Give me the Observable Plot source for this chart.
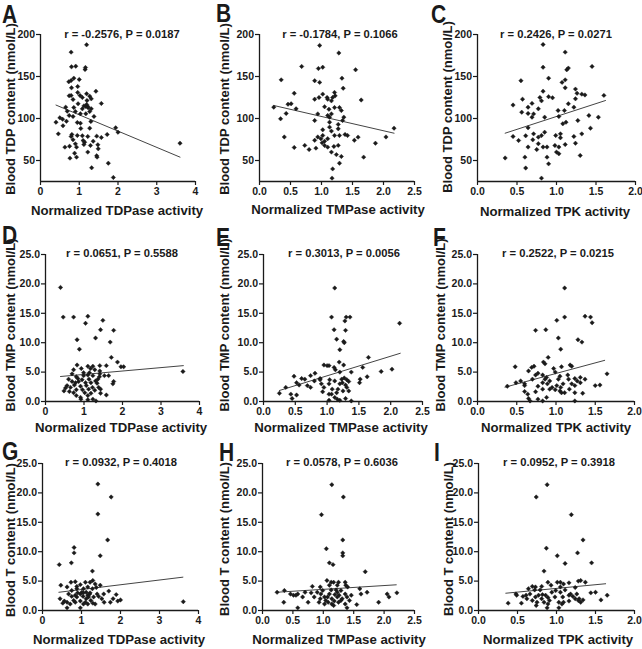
<!DOCTYPE html>
<html><head><meta charset="utf-8">
<script src="https://cdn.jsdelivr.net/npm/d3@7"></script>
<script src="https://cdn.jsdelivr.net/npm/@observablehq/plot@0.6"></script>
<style>
body{margin:0;background:#fff;font-family:"Liberation Sans",Arial,sans-serif;}
#wrap{position:relative;width:642px;height:649px;overflow:hidden;background:#fff}
.pl{position:absolute}
.t{position:absolute;font-weight:bold;white-space:nowrap;color:#1a1a1a;line-height:1;font-family:"Liberation Sans",Arial,sans-serif}
.t.big{line-height:0.76;transform-origin:0 50%}
</style>
</head><body><div id="wrap"></div>
<script>
// ---- data ----
const panelIds = ["A","B","C","D","E","F","G","H","I"];
const titles = ["r = -0.2576, P = 0.0187","r = -0.1784, P = 0.1066","r = 0.2426, P = 0.0271",
  "r = 0.0651, P = 0.5588","r = 0.3013, P = 0.0056","r = 0.2522, P = 0.0215",
  "r = 0.0932, P = 0.4018","r = 0.0578, P = 0.6036","r = 0.0952, P = 0.3918"];
const xLabels = ["Normalized TDPase activity","Normalized TMPase activity","Normalized TPK activity"];
const yLabels = ["Blood TDP content (nmol/L)","Blood TMP content (nmol/L)","Blood T content (nmol/L)"];
const xTicksTDPase = [0,1,2,3,4];
const xTicksTMPase = [0,0.5,1,1.5,2,2.5];
const xTicksTPK = [0,0.5,1,1.5,2];
const yTicksTDP = [50,100,150,200];
const yTicksT = [0,5,10,15,20,25];

const A_x = [1.19,0.79,0.80,0.91,1.16,1.15,1.00,0.73,0.79,0.86,1.43,0.80,0.96,0.96,0.74,0.79,1.02,1.19,1.27,1.31,0.84,1.08,1.20,1.57,0.65,1.19,1.22,1.08,1.31,1.27,0.90,0.74,0.84,1.03,1.38,0.50,0.57,0.40,0.67,1.03,1.30,0.58,1.04,1.27,1.94,2.00,0.46,0.81,0.79,0.95,1.08,1.22,1.45,1.57,1.72,0.84,1.10,1.14,1.36,1.12,1.29,1.48,0.90,0.63,0.75,0.93,1.49,1.22,0.88,1.45,1.46,0.76,0.93,1.75,1.32,1.88,3.60,1.17,1.12,1.23,0.86,1.17,0.95,0.69,0.97];
const A_y = [187.7,179,161.5,162.3,160.7,158.3,146.4,143.7,145.2,148,132.5,136.5,138,131,127,127.4,127.4,129.4,126.6,123.4,122.6,125,121.4,117.9,113.5,116.7,114.3,111.5,111.5,108.3,108.3,103.6,102.4,105.6,102.4,100.8,99.2,95.6,96.8,94.4,96.4,91.3,88.1,88.5,88.9,83.7,81.7,81,78.6,79.8,79.4,78.6,79,77.4,81,74.6,73.8,71.8,73,69,67.9,68.7,69.8,65.9,67,65.9,63.9,60,58.7,55.6,54,52.8,54,46.8,41.3,29.8,70.6,114.3,115,112.7,113,105.6,95.2,108.7,117.5];

const ptsB = [[0.97,187],[1.28,178],[0.68,162],[1.02,161],[0.95,159.5],[1.55,158],[0.35,146],[0.89,145],[0.97,143],[1.33,148],
[1.35,136],[0.56,130],[1.02,129],[1.21,131],[1.22,127],[0.89,123],[0.96,125],[1.09,125],[1.10,123],[1.18,125],
[1.16,121],[1.64,122],[0.23,113.5],[0.46,117],[0.51,117.5],[0.59,111.5],[1.05,114],[1.12,111],[1.21,113],[1.29,113],
[1.32,109.5],[0.34,99.6],[0.43,106],[0.94,105.5],[1.10,103.5],[1.16,105.5],[1.13,101.6],[1.36,101.6],[0.89,97.6],[1.13,95.6],
[1.27,93],[1.34,97.6],[1.27,87.7],[0.40,78],[1.02,79.8],[0.99,76],[1.21,79.8],[1.29,79.8],[1.38,81],[1.42,79.8],
[1.59,77.8],[1.53,74],[2.04,78],[2.17,88.5],[1.87,70.6],[0.73,68],[0.56,65.5],[0.80,63],[0.91,64.7],[1.05,67.9],
[1.10,65.9],[1.20,66.7],[1.27,68],[1.16,60],[1.24,57],[1.32,54.8],[1.68,54],[1.29,46.8],[1.18,40],[1.17,29],
[1.01,71],[1.05,73],[0.89,74],[1.02,86.5],[1.16,85],[1.13,89.7],[0.94,78],[1.10,76]];

const ptsC = [[0.83,188],[1.11,179],[0.83,161],[1.13,158],[1.15,160],[1.45,162],[1.11,146],[0.55,145],[0.90,148],[1.07,143],
[0.83,132.5],[1.11,136.5],[1.24,135],[1.32,129],[1.26,130],[0.57,123],[0.69,118],[0.64,113.5],[0.45,116],[0.79,125],
[0.81,121],[0.90,126],[0.95,124.6],[1.02,109.5],[1.10,109.5],[1.15,117.5],[1.24,123.4],[1.36,128],[1.60,127.5],[1.22,113.5],
[0.77,111.5],[0.85,101.6],[0.64,106],[0.71,105.5],[0.56,107.5],[0.69,101.6],[1.03,102.4],[1.08,93.7],[1.12,95.6],[1.27,97.6],
[1.41,103.6],[1.53,101.6],[0.64,88.9],[0.85,83.7],[0.71,81.7],[0.45,78.6],[0.61,79.4],[0.77,77.8],[0.81,79.8],[0.99,79.8],
[1.05,81.7],[1.22,78.6],[1.32,81.7],[1.43,88.5],[0.52,73.8],[0.70,74.6],[0.98,67.9],[1.03,66],[0.88,66],[0.83,66],
[1.11,69],[1.24,70.6],[0.64,66],[0.75,63],[1.00,60],[1.03,58],[0.60,54],[0.88,54],[0.35,53],[1.30,56],
[0.90,46],[0.61,41],[0.81,29],[1.05,77],[0.77,70]];

const ptsD = [[0.39,19.4],[0.46,14.35],[0.73,14.35],[1.10,14.5],[1.04,13.3],[1.49,13.8],[1.43,12.2],[1.77,12.1],[1.30,10.8],[0.82,10.5],
[1.68,10.1],[0.88,8.9],[1.71,7.5],[1.87,6.7],[0.82,6.2],[1.10,6.0],[1.23,6.0],[1.17,5.6],[1.41,6.1],[1.58,6.1],
[1.96,5.9],[2.03,5.9],[0.73,5.4],[0.93,5.6],[3.57,5.1],[0.69,4.7],[0.80,4.2],[0.99,4.4],[1.10,4.5],[1.23,4.4],
[1.41,4.7],[1.40,4.2],[1.64,4.4],[0.60,3.8],[0.84,3.9],[0.95,3.7],[1.13,3.8],[1.30,3.5],[0.86,3.4],[1.04,3.2],
[1.18,3.2],[1.34,3.1],[1.77,3.4],[1.75,3.0],[0.56,2.7],[0.75,2.8],[0.91,2.6],[1.06,2.7],[1.22,2.4],[1.38,2.4],
[1.43,2.1],[0.52,2.3],[0.65,2.4],[0.80,2.0],[0.96,2.0],[1.12,2.1],[1.28,1.9],[0.48,1.8],[0.62,1.7],[1.02,1.5],
[1.18,1.4],[1.43,1.4],[1.58,1.1],[0.80,1.0],[0.91,0.7],[0.92,0.4],[1.10,0.3],[1.23,0.4],[1.31,0.1],[0.73,1.5],
[0.99,4.9],[1.14,4.9],[1.41,5.2],[1.28,5.4],[0.69,3.4],[1.10,1.0],[1.53,4.4],[1.36,3.8],[0.78,3.2]];

const ptsE = [[1.12,19.3],[1.07,14.35],[1.30,14.35],[1.36,14.35],[1.28,13.7],[1.11,12.2],[1.29,12.1],[1.15,10.6],[1.26,10.2],[1.27,10.0],
[1.20,8.8],[2.14,13.3],[1.65,7.5],[1.19,6.7],[0.95,6.2],[1.00,6.1],[1.03,6.1],[1.11,5.8],[1.13,5.4],[1.26,6.2],
[1.56,5.8],[1.85,5.1],[2.02,5.5],[1.63,4.2],[0.48,4.3],[0.60,3.9],[0.74,4.4],[0.81,4.8],[0.89,3.9],[0.89,3.7],
[1.04,3.7],[1.23,3.8],[1.27,4.0],[1.31,3.7],[1.34,3.4],[1.12,3.5],[0.52,3.2],[0.56,2.8],[0.69,2.7],[0.35,2.4],
[0.91,3.0],[1.03,3.0],[1.20,3.0],[1.24,3.2],[1.29,2.8],[1.51,3.2],[1.52,3.8],[0.95,2.4],[1.08,2.1],[1.17,2.1],
[1.31,2.4],[0.25,1.4],[0.43,1.25],[0.52,1.1],[0.93,1.65],[1.03,1.25],[1.07,1.25],[1.15,1.5],[1.25,1.8],[1.34,1.8],
[0.45,0.5],[1.03,0.2],[1.16,0.4],[1.20,0.2],[1.29,0.5],[1.38,0.1],[0.80,3.5],[0.65,3.8],[1.12,0.7],[0.74,2.4],
[1.20,5.0],[1.38,5.0]];

const ptsF = [[1.11,19.3],[1.11,14.35],[1.37,14.5],[1.44,14.35],[1.46,13.4],[1.01,13.8],[0.74,12.1],[0.87,12.2],[1.03,10.8],[1.28,10.5],
[1.33,10.1],[1.06,8.9],[0.90,7.5],[0.48,5.9],[0.69,5.8],[0.72,6.0],[0.84,6.7],[0.86,6.4],[1.18,6.2],[1.20,6.0],
[1.07,5.9],[0.97,5.6],[0.49,3.2],[0.55,3.5],[0.70,3.8],[0.77,4.8],[0.83,4.5],[0.88,4.1],[0.86,3.8],[0.92,3.5],
[1.03,3.8],[1.05,4.3],[1.15,4.5],[1.16,3.8],[1.24,3.9],[1.27,3.5],[1.31,4.1],[1.65,4.7],[0.38,2.6],[0.60,2.7],
[0.77,2.6],[0.89,3.0],[0.95,2.4],[1.01,2.7],[1.09,3.0],[1.24,2.7],[1.31,3.2],[1.50,2.7],[1.56,2.8],[0.60,1.7],
[0.74,1.65],[0.83,2.1],[0.99,2.0],[1.05,1.8],[1.07,1.5],[1.17,2.1],[1.24,1.5],[1.34,1.4],[0.64,1.25],[0.65,0.5],
[0.77,0.4],[0.83,0.1],[0.88,0.7],[0.67,0.1],[1.24,0.1],[1.11,1.5],[1.06,2.4],[0.74,4.5],[0.60,3.0],[1.37,3.8],
[1.20,3.0],[0.92,2.1],[0.83,3.2],[0.99,5.0],[0.65,5.2]];

const ptsG = [[1.42,21.5],[1.76,19.3],[1.42,16.4],[1.67,12.0],[0.81,10.7],[0.81,9.8],[1.48,9.3],[0.43,7.8],[0.74,8.1],[1.28,6.7],
[3.61,1.5],[0.47,4.3],[0.73,4.8],[0.84,4.9],[1.10,4.8],[1.22,4.8],[1.29,5.1],[1.48,4.3],[0.63,4.0],[0.88,4.1],
[0.97,4.4],[1.05,3.7],[1.16,4.0],[1.28,3.7],[1.38,3.9],[0.75,3.4],[0.90,3.0],[1.01,3.1],[1.12,3.1],[1.22,3.0],
[1.40,2.8],[1.57,2.8],[1.70,3.3],[1.89,2.7],[0.75,2.4],[0.88,2.3],[1.04,2.4],[1.16,2.6],[1.31,2.3],[1.44,2.4],
[1.81,2.0],[2.00,1.8],[1.93,1.6],[0.45,2.0],[0.56,1.6],[0.63,1.4],[0.80,1.7],[0.97,1.6],[1.10,1.4],[1.24,1.7],
[1.29,1.25],[1.58,1.4],[1.74,1.4],[0.52,1.25],[0.71,1.1],[1.16,1.1],[1.35,1.1],[0.63,0.45],[0.97,0.45],[1.05,1.1],
[0.84,1.4],[1.21,2.8],[0.97,2.8],[1.12,2.0],[1.52,2.0],[0.88,3.7],[0.67,2.8],[1.35,4.5],[1.18,2.3],[0.84,2.6],
[1.05,3.0]];

const ptsH = [[1.14,21.4],[1.33,19.3],[0.97,16.3],[1.32,12.0],[1.05,10.5],[1.32,9.8],[1.32,9.3],[1.10,8.1],[1.16,7.8],[1.69,6.6],
[1.06,5.1],[1.13,4.8],[1.17,4.8],[1.25,4.8],[1.36,4.8],[1.37,4.3],[1.40,4.0],[0.82,4.1],[0.95,4.0],[0.24,3.1],
[0.36,3.4],[0.46,2.8],[0.58,2.8],[0.51,2.6],[0.70,3.1],[0.90,3.1],[0.99,3.4],[1.13,3.5],[1.21,3.5],[1.29,3.4],
[1.10,2.8],[1.19,2.7],[1.26,2.6],[1.36,2.8],[1.46,2.6],[1.62,2.8],[1.72,3.1],[1.60,3.7],[2.05,2.8],[2.21,3.0],
[2.08,2.3],[0.55,2.6],[0.66,2.3],[0.85,2.3],[0.95,2.0],[1.02,2.3],[1.14,2.0],[1.23,2.3],[1.31,2.0],[1.39,2.3],
[0.35,1.4],[0.75,1.4],[0.93,1.4],[1.02,1.1],[1.08,1.4],[1.14,1.1],[1.18,1.6],[1.25,1.4],[1.36,1.1],[1.55,1.0],
[1.91,1.4],[0.58,0.45],[1.39,0.45],[1.04,1.7],[1.17,0.85],[1.29,1.7],[0.96,2.8],[0.80,3.0],[1.23,4.3],[1.10,4.3],
[1.43,1.7],[1.23,3.1],[1.07,2.3]];

const ptsI = [[0.88,21.4],[0.74,19.3],[1.19,16.3],[1.34,12.0],[0.87,10.6],[1.01,9.3],[1.27,9.8],[1.11,8.0],[1.45,8.1],[0.84,6.7],
[0.89,4.8],[1.01,4.8],[1.05,4.8],[1.09,4.5],[1.16,4.7],[1.28,5.0],[1.31,5.1],[1.37,4.8],[0.73,4.0],[0.69,4.1],
[0.81,4.1],[0.93,4.3],[0.64,3.7],[0.72,3.5],[0.79,3.5],[0.99,3.4],[1.11,3.5],[1.24,3.9],[0.48,2.8],[0.61,2.6],
[0.66,2.8],[0.82,2.7],[0.86,2.6],[0.94,3.1],[1.05,3.1],[1.18,2.8],[1.26,2.8],[1.44,3.0],[1.50,3.1],[1.65,2.6],
[0.57,2.4],[0.62,2.0],[0.73,2.3],[0.81,2.0],[0.89,2.2],[0.98,2.3],[1.08,2.3],[1.21,2.4],[1.29,2.0],[1.34,1.8],
[1.57,1.8],[0.38,1.25],[0.55,1.25],[0.69,1.7],[0.75,1.4],[0.84,1.4],[0.89,1.1],[1.03,1.4],[1.07,1.1],[1.09,1.4],
[1.16,1.6],[1.28,1.7],[1.31,1.4],[0.74,0.85],[0.88,0.45],[1.03,0.45],[0.77,2.6],[0.49,2.6],[1.16,2.6],[0.91,1.7],
[1.24,2.0],[1.05,4.0]];

// regression line end points
const lineA = [[0.40,116],[3.60,54]];
const lineB = [[0.23,115.5],[2.17,82.5]];
const lineC = [[0.35,82.5],[1.62,121.4]];
const lineD = [[0.39,4.25],[3.58,6.1]];
const lineE = [[0.25,1.87],[2.15,8.2]];
const lineF = [[0.35,2.43],[1.62,7.0]];
const lineG = [[0.42,3.1],[3.60,5.67]];
const lineH = [[0.23,3.1],[2.20,4.37]];
const lineI = [[0.35,2.94],[1.63,4.55]];

// ---- layout ----
const fmtInt = d3.format("d"), fmt1 = d3.format(".1f");
const pts = [d3.zip(A_x, A_y), ptsB, ptsC, ptsD, ptsE, ptsF, ptsG, ptsH, ptsI];
const lines = [lineA, lineB, lineC, lineD, lineE, lineF, lineG, lineH, lineI];
const xT = [xTicksTDPase, xTicksTMPase, xTicksTPK];
// plot-area frames (local px): x0, x1, y0, y1
const frames = [
  [40,195,34,181],[45,200,34,181],[49,207,34,181],
  [45,199,39,186],[49,208,39,186],[49,206,39,186],
  [42,198,33,180],[48,200,33,180],[50,206,33,180]];
const titlePos = [[122,35],[126,35],[128,35],[122,39],[130,39],[130,39],[121,33],[128,33],[131,33]];
const xLabPos = [[117,211],[124,210],[127,212],[121,213],[127,213],[128,213],[119,210],[125,210],[130,210]];
// y-label: [center x, bottom y] local
const yLabPos = [[10,195],[10,195],[19,193],[10,197],[10,197],[12,197],[10,187],[10,186],[20,186]];
const letterPos = [[2,13.5],[2,13],[3,14],[2,20],[2,22],[5,22],[2,20.5],[5,21.5],[6,21.5]];
const rowTop = [0,215,430], colLeft = [0,214,428];

const wrap = document.getElementById("wrap");
function addText(txt, x, y, size, transform, cls) {
  const d = document.createElement("div");
  d.className = "t" + (cls ? " " + cls : "");
  d.textContent = txt;
  d.style.left = x + "px"; d.style.top = y + "px";
  d.style.fontSize = size + "px";
  d.style.transform = transform || "translate(-50%,-50%)";
  wrap.appendChild(d);
  return d;
}

for (let i = 0; i < 9; i++) {
  const r = Math.floor(i / 3), c = i % 3;
  const W = 214, H = r === 2 ? 219 : 215;
  const [x0, x1, y0, y1] = frames[i];
  const yDom = r === 0 ? [25, 200] : [0, 25];
  const yTicks = r === 0 ? yTicksTDP : yTicksT;
  const xDom = c === 0 ? [0, 4] : c === 1 ? [0, 2.5] : [0, 2];
  const xFmt = c === 0 ? fmtInt : fmt1;
  const yFmt = r === 0 ? fmtInt : fmt1;
  const data = pts[i].map(([x, y]) => ({x, y}));
  const ln = lines[i].map(([x, y]) => ({x, y}));
  const svg = Plot.plot({
    width: W, height: H,
    marginLeft: x0, marginRight: W - x1, marginTop: y0, marginBottom: H - y1,
    x: {domain: xDom}, y: {domain: yDom},
    style: {fontFamily: "'Liberation Sans', Arial, sans-serif", fontSize: "10.5px", fontWeight: "bold", color: "#1a1a1a", background: "transparent", overflow: "visible"},
    marks: [
      Plot.axisX(xT[c], {tickFormat: xFmt, tickSize: 4, tickPadding: 2, label: null, strokeWidth: 1.2}),
      Plot.axisY(yTicks, {tickFormat: yFmt, tickSize: 4, tickPadding: 1.5, label: null, strokeWidth: 1.2}),
      Plot.ruleX([xDom[0]], {stroke: "#1a1a1a", strokeWidth: 1.3}),
      Plot.ruleY([yDom[0]], {stroke: "#1a1a1a", strokeWidth: 1.3}),
      Plot.line(ln, {x: "x", y: "y", stroke: "#444", strokeWidth: 1}),
      Plot.dot(data, {x: "x", y: "y", symbol: "diamond2", r: 2.0, fill: "#1a1a1a", stroke: "#1a1a1a", strokeWidth: 0.4})
    ]
  });
  svg.classList.add("pl");
  svg.style.left = colLeft[c] + "px";
  svg.style.top = rowTop[r] + "px";
  wrap.appendChild(svg);

  const L = colLeft[c], T = rowTop[r];
  addText(titles[i], L + titlePos[i][0], T + titlePos[i][1], 11.2);
  addText(xLabels[c], L + xLabPos[i][0], T + xLabPos[i][1], 13.2);
  // rotated y label anchored at its bottom end
  const yl = addText(yLabels[r], L + yLabPos[i][0], T + yLabPos[i][1], 13, "translate(-50%,-50%) rotate(-90deg)");
  const w = yl.getBoundingClientRect().height; // rotated: height = text length
  yl.style.top = (T + yLabPos[i][1] - w / 2) + "px";
  addText(panelIds[i], L + letterPos[i][0], T + letterPos[i][1], 25, "translate(0,-50%) scaleX(0.84)", "big");
}
</script>
</body></html>
